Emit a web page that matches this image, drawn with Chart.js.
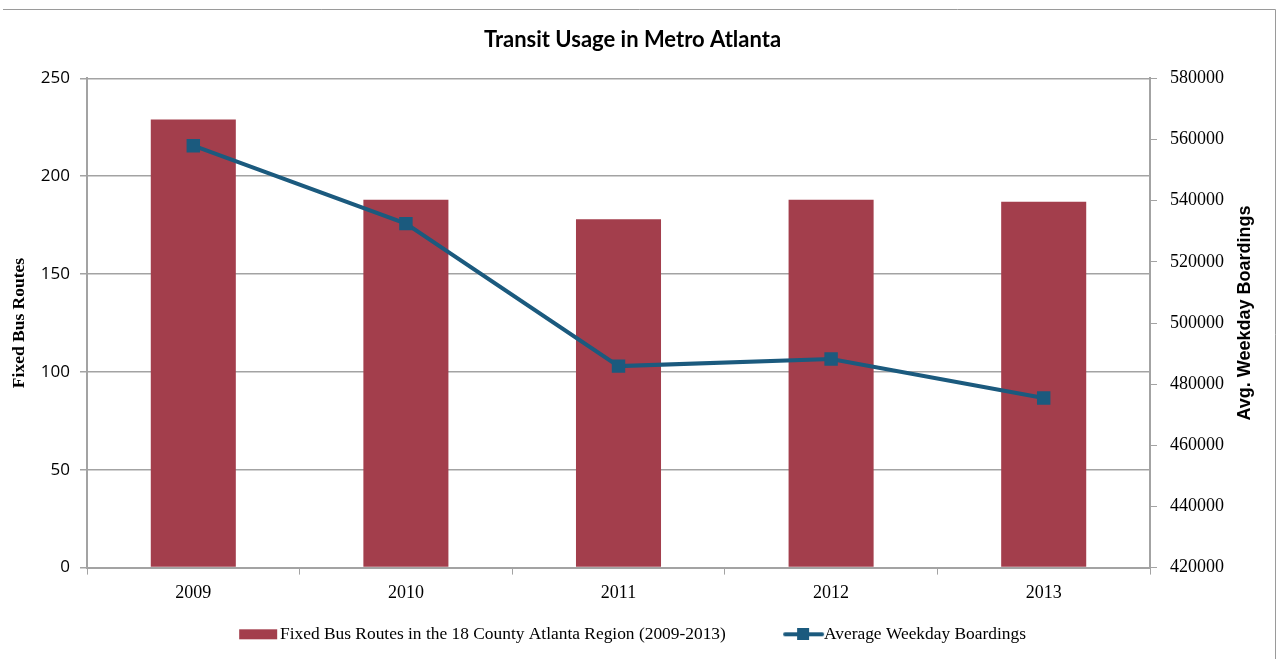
<!DOCTYPE html>
<html>
<head>
<meta charset="utf-8">
<script src="https://cdn.jsdelivr.net/npm/chart.js@4.4.0/dist/chart.umd.min.js"></script>
<style>
html,body{margin:0;padding:0;background:#fff;}
#wrap{width:1279px;height:659px;position:relative;}
</style>
</head>
<body>
<div id="wrap"><canvas id="c" width="1279" height="659"></canvas></div>
<script>
const categories = ['2009', '2010', '2011', '2012', '2013'];
const routes = [229, 188, 178, 188, 187];
const boardings = [558000, 532500, 485900, 488200, 475500];
const routesLabel = 'Fixed Bus Routes in the 18 County Atlanta Region (2009-2013)';
const boardingsLabel = 'Average Weekday Boardings';
const chartTitle = 'Transit Usage in Metro Atlanta';
const leftAxisTitle = 'Fixed Bus Routes';
const rightAxisTitle = 'Avg. Weekday Boardings';

const BAR = '#a33e4c';
const LINE = '#1b5a7e';
const GRID = '#a3a3a3';

// legend icons: 60px wide canvas, centred at pointStyleWidth/2 (=16)
function makeBarIcon(){
  const c = document.createElement('canvas');
  c.width = 60; c.height = 12;
  const x = c.getContext('2d');
  x.fillStyle = BAR; x.fillRect(14,1,38,10);
  return c;
}
function makeLineIcon(){
  const c = document.createElement('canvas');
  c.width = 60; c.height = 12;
  const x = c.getContext('2d');
  x.strokeStyle = LINE; x.lineWidth = 4; x.lineCap = 'round';
  x.beginPath(); x.moveTo(16,6); x.lineTo(53,6); x.stroke();
  x.fillStyle = LINE; x.fillRect(28,0,12,12);
  return c;
}

const decor = {
  id: 'decor',
  beforeDraw(chart){
    const ctx = chart.ctx;
    ctx.save();
    ctx.fillStyle = '#fff';
    ctx.fillRect(0,0,chart.width,chart.height);
    ctx.restore();
  },
  afterDraw(chart){
    const ctx = chart.ctx;
    ctx.save();
    ctx.strokeStyle = '#9a9a9a';
    ctx.lineWidth = 1;
    ctx.beginPath();
    ctx.moveTo(3, 9.5); ctx.lineTo(1275.5, 9.5); ctx.lineTo(1275.5, 659);
    ctx.stroke();
    // right axis title
    const ca = chart.chartArea;
    ctx.translate(1245, (ca.top + ca.bottom)/2 - 10);
    ctx.rotate(-Math.PI/2);
    ctx.fillStyle = '#000';
    ctx.font = 'bold 18px "Liberation Sans", Arial, sans-serif';
    ctx.textAlign = 'center';
    ctx.textBaseline = 'middle';
    ctx.fillText(rightAxisTitle, 0, 0);
    ctx.restore();
  }
};

new Chart(document.getElementById('c'), {
  data: {
    labels: categories,
    datasets: [
      {
        type: 'line',
        label: boardingsLabel,
        data: boardings,
        yAxisID: 'y2',
        borderColor: LINE,
        backgroundColor: LINE,
        borderWidth: 4,
        pointStyle: 'rect',
        pointRadius: 9.5,
        pointBorderWidth: 0,
        pointBackgroundColor: LINE,
        tension: 0,
        order: 0
      },
      {
        type: 'bar',
        label: routesLabel,
        data: routes,
        yAxisID: 'y',
        backgroundColor: BAR,
        borderWidth: 0,
        barPercentage: 0.4,
        categoryPercentage: 1.0,
        order: 1
      }
    ]
  },
  options: {
    responsive: false,
    animation: false,
    devicePixelRatio: 1,
    layout: { padding: { left: 4, right: 18, top: 0, bottom: 6 } },
    plugins: {
      tooltip: { enabled: false },
      title: {
        display: true,
        text: chartTitle,
        color: '#000',
        font: { family: 'Lato, "Open Sans", sans-serif', size: 22, weight: 'bold' },
        padding: { top: 27, bottom: 25 }
      },
      legend: {
        position: 'bottom',
        labels: {
          usePointStyle: true,
          pointStyleWidth: 32.3,
          boxHeight: 12,
          padding: 18,
          color: '#000',
          font: { family: '"Liberation Serif", "Times New Roman", serif', size: 17.4 },
          generateLabels(chart){
            return [
              { text: routesLabel + '         ', pointStyle: makeBarIcon(), fillStyle: BAR, strokeStyle: BAR, lineWidth: 0, datasetIndex: 1, hidden: false, fontColor: '#000' },
              { text: boardingsLabel, pointStyle: makeLineIcon(), fillStyle: LINE, strokeStyle: LINE, lineWidth: 0, datasetIndex: 0, hidden: false, fontColor: '#000' }
            ];
          }
        }
      }
    },
    scales: {
      x: {
        offset: true,
        grid: { offset: true, drawOnChartArea: false, color: GRID, tickLength: 7, tickColor: GRID },
        border: { color: GRID, width: 2 },
        ticks: { color: '#000', padding: 8, font: { family: '"Liberation Serif", serif', size: 18 } },
        afterFit(scale){ scale.height = 40; }
      },
      y: {
        position: 'left',
        min: 0, max: 250,
        ticks: { stepSize: 50, color: '#000', padding: 10, font: { family: '"Open Sans", sans-serif', size: 17 } },
        grid: { color: GRID, tickLength: 7, lineWidth: 1.5 },
        border: { color: GRID, width: 2 },
        title: {
          display: true,
          text: leftAxisTitle,
          color: '#000',
          font: { family: '"Liberation Serif", serif', size: 17.5, weight: 'bold' },
          padding: { top: 5, bottom: 0 }
        },
        afterFit(scale){ scale.width = 83; }
      },
      y2: {
        position: 'right',
        min: 420000, max: 580000,
        ticks: { stepSize: 20000, color: '#000', padding: 13, font: { family: '"Liberation Serif", serif', size: 18 },
          callback: v => String(v) },
        grid: { drawOnChartArea: false, color: GRID, tickLength: 7 },
        border: { color: GRID, width: 2 },
        afterFit(scale){ scale.width = 111; }
      }
    }
  },
  plugins: [decor]
});
</script>
</body>
</html>
